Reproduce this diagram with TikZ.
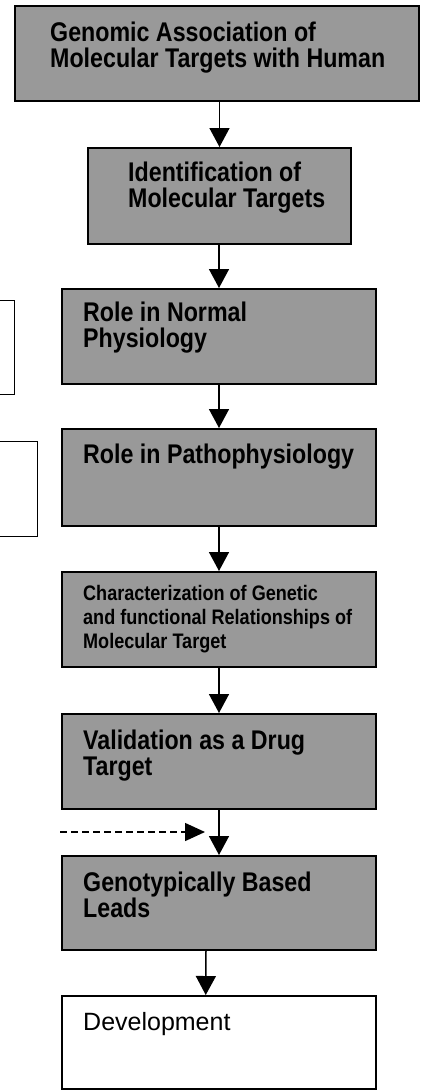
\documentclass[tikz,border=0pt]{standalone}
\usepackage{fontspec}
\setmainfont{Liberation Sans}
\newfontfamily\cfont{Liberation Sans}[FakeStretch=0.86]
\usetikzlibrary{arrows.meta}
\begin{document}
\begin{tikzpicture}[x=1pt,y=-1pt,
  box/.style={draw,line width=2pt,fill=black!40,anchor=north west,inner sep=0pt},
  plainbox/.style={draw,line width=1.5pt,fill=white,anchor=north west,inner sep=0pt},
  lbl/.style={anchor=base west,align=left,inner sep=0pt,font=\cfont\bfseries\fontsize{27}{26}\selectfont},
  smalllbl/.style={anchor=base west,align=left,inner sep=0pt,font=\cfont\bfseries\fontsize{21}{24}\selectfont},
  reglbl/.style={anchor=base west,align=left,inner sep=0pt,font=\fontsize{25}{28}\selectfont},
  arr/.style={-{Triangle[width=20pt,length=19pt]},line width=1.5pt},
  sidebox/.style={line width=1pt}]
\useasboundingbox (0,0) rectangle (425,1090);
% main boxes
\node[box,minimum width=404pt,minimum height=95pt] (b1) at (14,5) {};
\node[box,minimum width=263pt,minimum height=96pt] (b2) at (87,147) {};
\node[box,minimum width=314pt,minimum height=95pt] (b3) at (61,288) {};
\node[box,minimum width=314pt,minimum height=97pt] (b4) at (61,428) {};
\node[box,minimum width=314pt,minimum height=95pt] (b5) at (61,571) {};
\node[box,minimum width=314pt,minimum height=95pt] (b6) at (61,713) {};
\node[box,minimum width=314pt,minimum height=94pt] (b7) at (61,855) {};
\node[plainbox,minimum width=314pt,minimum height=93pt] (b8) at (61,995) {};
% texts (anchored at the baseline of the last line)
\node[lbl] (t1) at (50,67) {Genomic Association of\\Molecular Targets with Human};
\node[lbl] (t2) at (128,207) {Identification of\\Molecular Targets};
\node[lbl] (t3) at (83,347) {Role in Normal\\Physiology};
\node[lbl] (t4) at (83,463) {Role in Pathophysiology};
\node[smalllbl] (t5) at (83,648) {Characterization of Genetic\\and functional Relationships of\\Molecular Target};
\node[lbl] (t6) at (83,775) {Validation as a Drug\\Target};
\node[lbl] (t7) at (83,917) {Genotypically Based\\Leads};
\node[reglbl] (t8) at (83,1030) {Development};
% side boxes (partly outside the picture)
\draw[sidebox] (0,300) -- (14,300) -- (14,394) -- (0,394);
\draw[sidebox] (0,441) -- (37,441) -- (37,536) -- (0,536);
% connectors
\draw[arr] (b2.north |- b1.south) -- (b2.north);
\draw[arr] (b3.north |- b2.south) -- (b3.north);
\draw[arr] (b3.south) -- (b4.north);
\draw[arr] (b4.south) -- (b5.north);
\draw[arr] (b5.south) -- (b6.north);
\draw[arr] (b6.south) -- (b7.north);
\draw[arr] ([xshift=-13pt]b7.south) -- ([xshift=-13pt]b8.north);
\coordinate (ds) at (60,832);
\coordinate (de) at (205,832);
\draw[-{Triangle[width=18pt,length=20pt]},line width=1.5pt,dash pattern=on 7pt off 4pt] (ds) -- (de);
\end{tikzpicture}
\end{document}
